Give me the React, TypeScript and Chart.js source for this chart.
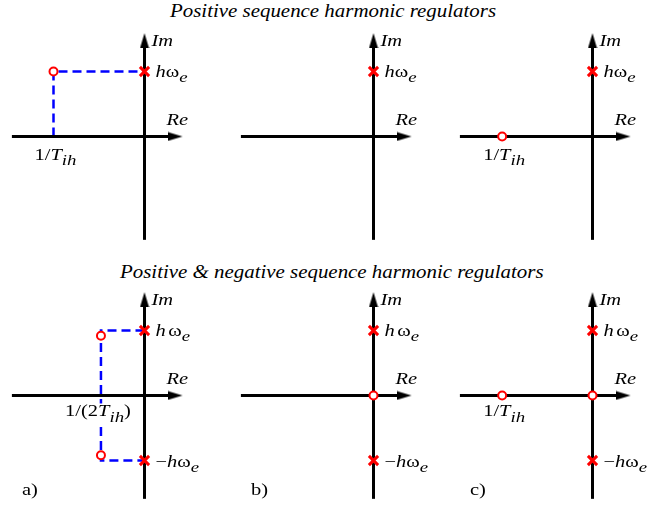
import React, { useEffect, useRef } from "react";
import { Chart, registerables } from "chart.js";
Chart.register(...registerables);

// ---------------- data ----------------
type P = [number, number];

const rowTitles = [
  "Positive sequence harmonic regulators",
  "Positive & negative sequence harmonic regulators",
];
const panelTags = ["a)", "b)", "c)"];

// axis extents in units of hω_e
const reAxisRange: P = [-2.04, 0.585];
const imAxisRange: P = [-1.59, 1.59];

// Row 1: positive sequence harmonic regulators
const posPoles: P[][] = [[[0, 1]], [[0, 1]], [[0, 1]]];
const posZeros: P[][] = [[[-1.4, 1]], [], [[-1.39, 0]]];
const posGuides: P[][] = [[[-1.4, 0], [-1.4, 1], [0, 1]], [], []];
const posZeroLabelKey: (string | null)[] = ["invT", null, "invT"];
const posZeroLabelRe: (number | null)[] = [-1.4, null, -1.39];

// Row 2: positive & negative sequence harmonic regulators
const pnPoles: P[][] = [
  [[0, 1], [0, -1]],
  [[0, 1], [0, -1]],
  [[0, 1], [0, -1]],
];
const pnZeros: P[][] = [[[-0.67, 0.92], [-0.67, -0.92]], [[0, 0]], [[-1.39, 0], [0, 0]]];
const pnGuides: P[][] = [[[0, 1], [-0.67, 1], [-0.67, -1], [0, -1]], [], []];
const pnZeroLabelKey: (string | null)[] = ["inv2T", null, "invT"];
const pnZeroLabelRe: (number | null)[] = [-0.67, null, -1.39];

// ---------------- layout / style ----------------
const PX = 65; // pixels per unit
const X_MIN = -2.1, X_MAX = 1.1, Y_MIN = -1.654, Y_MAX = 1.746;
const CW = Math.round((X_MAX - X_MIN) * PX);
const CH = Math.round((Y_MAX - Y_MIN) * PX);
const ORIGIN_X = [144.5, 373.5, 592.5];
const ORIGIN_Y = [136.5, 395.5];
const FONT = '"Liberation Serif", "Times New Roman", serif';
const LABEL_SIZE = 16;
const LABEL_SX = 1.28;

type Seg = { t: string; it?: boolean; sub?: boolean; gap?: number };
const RICH: Record<string, Seg[]> = {
  Im: [{ t: "Im", it: true }],
  Re: [{ t: "Re", it: true }],
  hwe: [{ t: "h", it: true }, { t: "ω" }, { t: "e", it: true, sub: true }],
  hwe2: [{ t: "h", it: true, gap: 2.5 }, { t: "ω" }, { t: "e", it: true, sub: true }],
  mhwe: [{ t: "−" }, { t: "h", it: true }, { t: "ω" }, { t: "e", it: true, sub: true }],
  invT: [{ t: "1/" }, { t: "T", it: true }, { t: "ih", it: true, sub: true }],
  inv2T: [{ t: "1/(2" }, { t: "T", it: true }, { t: "ih", it: true, sub: true }, { t: ")" }],
};

type Label = { segs: Seg[]; at: P; dx: number; dy: number; align: "left" | "center"; bg?: boolean };

function segFont(s: Seg) {
  const size = s.sub ? LABEL_SIZE * 0.92 : LABEL_SIZE;
  return `${s.it ? "italic " : ""}${size}px ${FONT}`;
}

function drawRich(ctx: CanvasRenderingContext2D, x: number, y: number, segs: Seg[], align: string, bg?: boolean) {
  ctx.save();
  const widths = segs.map((s) => {
    ctx.font = segFont(s);
    return ctx.measureText(s.t).width * LABEL_SX + (s.gap || 0);
  });
  const total = widths.reduce((a, b) => a + b, 0);
  let cx = align === "center" ? x - total / 2 : x;
  if (bg) {
    ctx.fillStyle = "#fff";
    ctx.fillRect(cx - 1, y - 13, total + 2, 22);
  }
  ctx.fillStyle = "#000";
  ctx.textAlign = "left";
  ctx.textBaseline = "alphabetic";
  segs.forEach((s, i) => {
    ctx.font = segFont(s);
    ctx.save();
    ctx.translate(cx, y + (s.sub ? 5.5 : 0));
    ctx.scale(LABEL_SX, 1);
    ctx.fillText(s.t, 0, 0);
    ctx.restore();
    cx += widths[i];
  });
  ctx.restore();
}

const richLabelPlugin = {
  id: "richLabels",
  afterDatasetsDraw(chart: any, _args: any, opts: any) {
    const { ctx } = chart;
    const xs = chart.scales.x;
    const ys = chart.scales.y;
    for (const lab of (opts.items || []) as Label[]) {
      const px = xs.getPixelForValue(lab.at[0]) + lab.dx;
      const py = ys.getPixelForValue(lab.at[1]) + lab.dy;
      drawRich(ctx, px, py, lab.segs, lab.align, lab.bg);
    }
  },
};

function makeArrow(): HTMLCanvasElement {
  const len = 15, half = 4.5;
  const c = document.createElement("canvas");
  c.width = len * 2;
  c.height = 10;
  const g = c.getContext("2d")!;
  g.fillStyle = "#000";
  g.beginPath();
  g.moveTo(0, 5 - half);
  g.lineTo(len, 5);
  g.lineTo(0, 5 + half);
  g.closePath();
  g.fill();
  return c;
}

const toXY = (pts: P[]) => pts.map(([x, y]) => ({ x, y }));

function Panel({ row, col }: { row: number; col: number }) {
  const ref = useRef<HTMLCanvasElement>(null);
  const ox = ORIGIN_X[col];
  const oy = ORIGIN_Y[row];
  const left = Math.round(ox + X_MIN * PX);
  const top = Math.round(oy - Y_MAX * PX);

  useEffect(() => {
    const poles = row === 0 ? posPoles[col] : pnPoles[col];
    const zeros = row === 0 ? posZeros[col] : pnZeros[col];
    const guides = row === 0 ? posGuides[col] : pnGuides[col];
    const zKey = row === 0 ? posZeroLabelKey[col] : pnZeroLabelKey[col];
    const zRe = row === 0 ? posZeroLabelRe[col] : pnZeroLabelRe[col];
    const arrow = makeArrow();
    const arrowBack = 10 / PX;

    const items: Label[] = [
      { segs: RICH.Im, at: [0, imAxisRange[1]], dx: 7, dy: 13, align: "left" },
      { segs: RICH.Re, at: [reAxisRange[1], 0], dx: -16, dy: -11, align: "left" },
    ];
    poles.forEach(([re, im]) => {
      if (im > 0) items.push({ segs: row === 0 ? RICH.hwe : RICH.hwe2, at: [re, im], dx: 11, dy: 5.5, align: "left" });
      else items.push({ segs: RICH.mhwe, at: [re, im], dx: 11, dy: 6.5, align: "left" });
    });
    if (zKey && zRe !== null) {
      items.push({
        segs: RICH[zKey],
        at: [zRe, 0],
        dx: zKey === "inv2T" ? -3 : 2,
        dy: row === 0 ? 23.5 : 21,
        align: "center",
        bg: zKey === "inv2T",
      });
    }
    if (row === 1) {
      items.push({ segs: [{ t: panelTags[col] }], at: [reAxisRange[0], imAxisRange[0]], dx: 10, dy: -3.5, align: "left" });
    }

    const chart = new Chart(ref.current!, {
      type: "scatter",
      data: {
        datasets: [
          {
            data: toXY(guides),
            showLine: true,
            borderColor: "#0000ff",
            borderWidth: 2.5,
            borderDash: [9, 5],
            pointRadius: 0,
            order: 5,
          },
          {
            data: [
              { x: reAxisRange[0], y: 0 },
              { x: reAxisRange[1] - arrowBack, y: 0 },
            ],
            showLine: true,
            borderColor: "#000",
            borderWidth: 3,
            pointRadius: 0,
            order: 4,
          },
          {
            data: [
              { x: 0, y: imAxisRange[0] },
              { x: 0, y: imAxisRange[1] - arrowBack },
            ],
            showLine: true,
            borderColor: "#000",
            borderWidth: 3,
            pointRadius: 0,
            order: 4,
          },
          {
            data: [{ x: reAxisRange[1], y: 0 }],
            pointStyle: arrow as any,
            pointRotation: 0,
            pointRadius: 5,
            order: 3,
          },
          {
            data: [{ x: 0, y: imAxisRange[1] }],
            pointStyle: arrow as any,
            pointRotation: -90,
            pointRadius: 5,
            order: 3,
          },
          {
            data: toXY(poles),
            pointStyle: "crossRot",
            pointRadius: 6.5,
            borderWidth: 3,
            borderColor: "#ff0000",
            backgroundColor: "#ff0000",
            order: 2,
          },
          {
            data: toXY(zeros),
            pointStyle: "circle",
            pointRadius: 4,
            borderWidth: 2,
            borderColor: "#ff0000",
            backgroundColor: "#ffffff",
            order: 1,
          },
        ],
      },
      options: {
        animation: false,
        responsive: false,
        maintainAspectRatio: false,
        devicePixelRatio: 1,
        events: [],
        layout: { padding: 0, autoPadding: false },
        scales: {
          x: { type: "linear", min: X_MIN, max: X_MAX, display: false },
          y: { type: "linear", min: Y_MIN, max: Y_MAX, display: false },
        },
        plugins: {
          legend: { display: false },
          tooltip: { enabled: false },
          richLabels: { items },
        } as any,
      },
      plugins: [richLabelPlugin as any],
    });
    return () => chart.destroy();
  }, [row, col]);

  return (
    <canvas
      ref={ref}
      width={CW}
      height={CH}
      style={{ position: "absolute", left, top, width: CW, height: CH }}
    />
  );
}

const titleStyle: React.CSSProperties = {
  position: "absolute",
  font: `italic 19px ${FONT}`,
  lineHeight: "19px",
  whiteSpace: "nowrap",
  transform: "scaleX(1.1)",
  transformOrigin: "0 0",
  color: "#000",
};

export default function App() {
  return (
    <div
      style={{
        position: "fixed",
        left: 0,
        top: 0,
        width: 663,
        height: 505,
        background: "#fff",
        overflow: "hidden",
      }}
    >
      <div style={{ ...titleStyle, left: 170, top: 1 }}>{rowTitles[0]}</div>
      <div style={{ ...titleStyle, left: 120, top: 262 }}>{rowTitles[1]}</div>
      {[0, 1].map((r) => [0, 1, 2].map((c) => <Panel key={`${r}-${c}`} row={r} col={c} />))}
    </div>
  );
}
